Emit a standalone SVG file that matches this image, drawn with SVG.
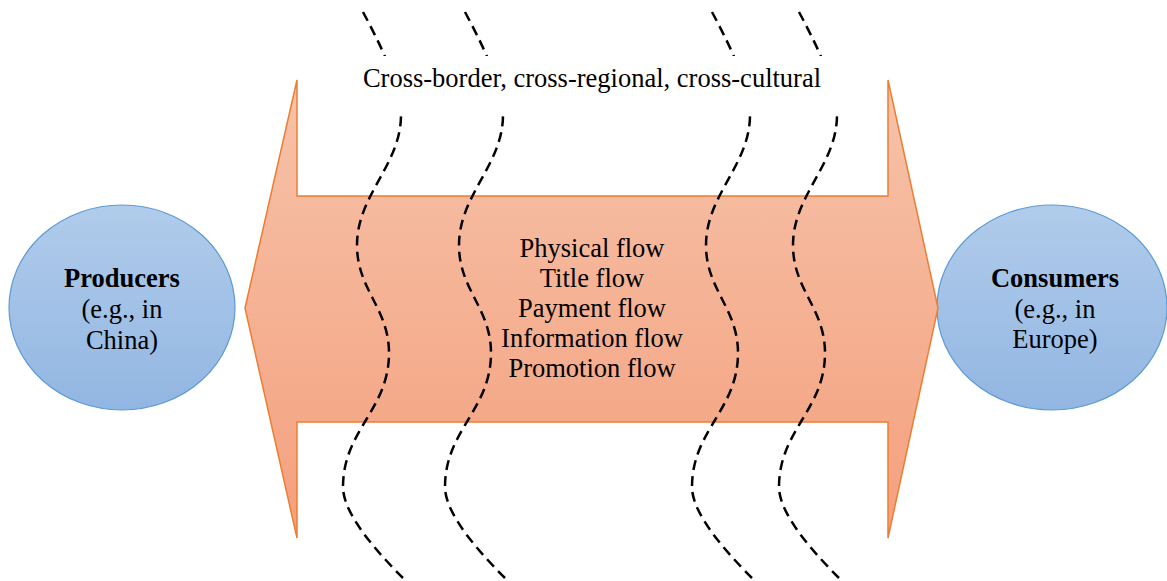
<svg xmlns="http://www.w3.org/2000/svg" xmlns:xlink="http://www.w3.org/1999/xlink" width="1167" height="581" viewBox="0 0 1167 581">
<style>
.node{stroke:#5b9bd5;stroke-width:1.2;fill:url(#blue)}
.t{font-family:"Liberation Serif","Times New Roman",serif;font-size:26.5px;fill:#000;text-anchor:middle}
.b{font-weight:bold}
.dash{fill:none;stroke:#000;stroke-width:2.5;stroke-dasharray:10 6}
</style>
<defs>
<linearGradient id="blue" x1="0" y1="0" x2="0" y2="1">
<stop offset="0" stop-color="#b1cceb"/>
<stop offset="1" stop-color="#92b6e2"/>
</linearGradient>
<linearGradient id="orange" gradientUnits="userSpaceOnUse" x1="0" y1="80" x2="0" y2="538">
<stop offset="0" stop-color="#f6c3aa"/>
<stop offset="1" stop-color="#f4a07d"/>
</linearGradient>
<path id="wave" class="dash" d="M363,12 C378,40 401,85 401,115 C401,165 357,195 357,245 C357,290 389,308 389,353 C389,410 343,430 343,487 C343,515 380,555 403,578"/>
</defs>
<rect width="1167" height="581" fill="#fff"/>
<g id="producers">
<ellipse class="node" cx="122" cy="307.5" rx="113" ry="102.5"/>
<text class="t b" x="122" y="287">Producers</text>
<text class="t" x="122" y="318">(e.g., in</text>
<text class="t" x="122" y="349">China)</text>
</g>
<g id="consumers">
<ellipse class="node" cx="1052" cy="307.5" rx="115" ry="102.5"/>
<text class="t b" x="1055" y="287">Consumers</text>
<text class="t" x="1055" y="318">(e.g., in</text>
<text class="t" x="1055" y="348">Europe)</text>
</g>
<g id="connectors">
<polygon points="245,308 297,80 297,196 888,196 888,80 938,308 888,538 888,422 297,422 297,538" fill="url(#orange)" stroke="#ed7d31" stroke-width="1.5" stroke-linejoin="miter"/>
<g id="flows">
<text class="t" x="592" y="257">Physical flow</text>
<text class="t" x="592" y="287">Title flow</text>
<text class="t" x="592" y="317">Payment flow</text>
<text class="t" x="592" y="347">Information flow</text>
<text class="t" x="592" y="377">Promotion flow</text>
</g>
</g>
<g id="borders">
<use xlink:href="#wave"/>
<use xlink:href="#wave" transform="translate(102,0)"/>
<use xlink:href="#wave" transform="translate(349,0)"/>
<use xlink:href="#wave" transform="translate(436,0)"/>
</g>
<g id="label">
<rect x="340" y="56" width="510" height="60" fill="#fff"/>
<text class="t" x="592" y="87">Cross-border, cross-regional, cross-cultural</text>
</g>
</svg>
